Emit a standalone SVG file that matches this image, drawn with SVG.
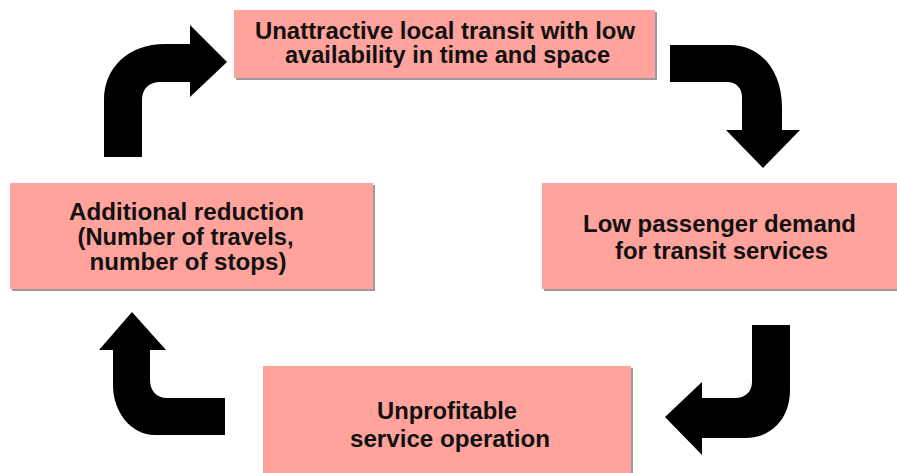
<svg xmlns="http://www.w3.org/2000/svg" width="897" height="473" viewBox="0 0 897 473">
  <style>
    .box { fill: #ffa39c; }
    .shadow { fill: #9c9c9c; }
    .label { font-family: "Liberation Sans", Arial, sans-serif; font-weight: bold; font-size: 23px; fill: #111111; text-anchor: middle; }
    .arrow { fill: #000000; }
  </style>
  <rect width="897" height="473" fill="#ffffff"/>

  <!-- Cycle connectors: thick bent arrows -->
  <g id="connectors">
    <!-- left box up to top box -->
    <path class="arrow" d="M104,157 L104,100 C104,68 128,44 165,44 L190,44 L190,25 L227,62 L190,97 L190,82 L160,82 C150,82 142,88 142,100 L142,157 Z"/>
    <!-- top box down to right box -->
    <path class="arrow" d="M670,45 L730,45 C760,45 782,70 782,107 L782,130 L800,130 L763,168 L726,130 L742,130 L742,97 C742,88 736,82 727,82 L670,82 Z"/>
    <!-- right box down to bottom box -->
    <path class="arrow" d="M752,325 L790,325 L790,390 C790,418 772,438 745,438 L702,438 L702,455 L665,417 L702,382 L702,398 L735,398 C745,398 752,392 752,382 Z"/>
    <!-- bottom box up to left box -->
    <path class="arrow" d="M225,398 L225,435 L155,435 C131,435 113,412 113,385 L113,350 L99,350 L132,312 L166,350 L150,350 L150,380 C150,391 157,398 167,398 Z"/>
  </g>

  <g id="node-unattractive-transit">
    <rect class="shadow" x="236" y="12" width="421" height="68"/>
    <rect class="box" x="234" y="10" width="421" height="68"/>
    <text class="label" x="445" y="39" textLength="380" lengthAdjust="spacingAndGlyphs">Unattractive local transit with low</text>
    <text class="label" x="447.5" y="63" textLength="325" lengthAdjust="spacingAndGlyphs">availability in time and space</text>
  </g>

  <g id="node-low-demand">
    <rect class="shadow" x="544" y="185" width="360" height="106"/>
    <rect class="box" x="542" y="183" width="360" height="106"/>
    <text class="label" x="719.5" y="231.5" textLength="273" lengthAdjust="spacingAndGlyphs">Low passenger demand</text>
    <text class="label" x="721.5" y="259" textLength="213" lengthAdjust="spacingAndGlyphs">for transit services</text>
  </g>

  <g id="node-unprofitable">
    <rect class="shadow" x="265" y="368" width="368" height="120"/>
    <rect class="box" x="263" y="366" width="368" height="120"/>
    <text class="label" x="447" y="419" textLength="140" lengthAdjust="spacingAndGlyphs">Unprofitable</text>
    <text class="label" x="450" y="447" textLength="200" lengthAdjust="spacingAndGlyphs">service operation</text>
  </g>

  <g id="node-additional-reduction">
    <rect class="shadow" x="12" y="185" width="363" height="106"/>
    <rect class="box" x="10" y="183" width="363" height="106"/>
    <text class="label" x="186.5" y="220" textLength="235" lengthAdjust="spacingAndGlyphs">Additional reduction</text>
    <text class="label" x="185.5" y="244.5" textLength="216" lengthAdjust="spacingAndGlyphs">(Number of travels,</text>
    <text class="label" x="188" y="270" textLength="197" lengthAdjust="spacingAndGlyphs">number of stops)</text>
  </g>
</svg>
